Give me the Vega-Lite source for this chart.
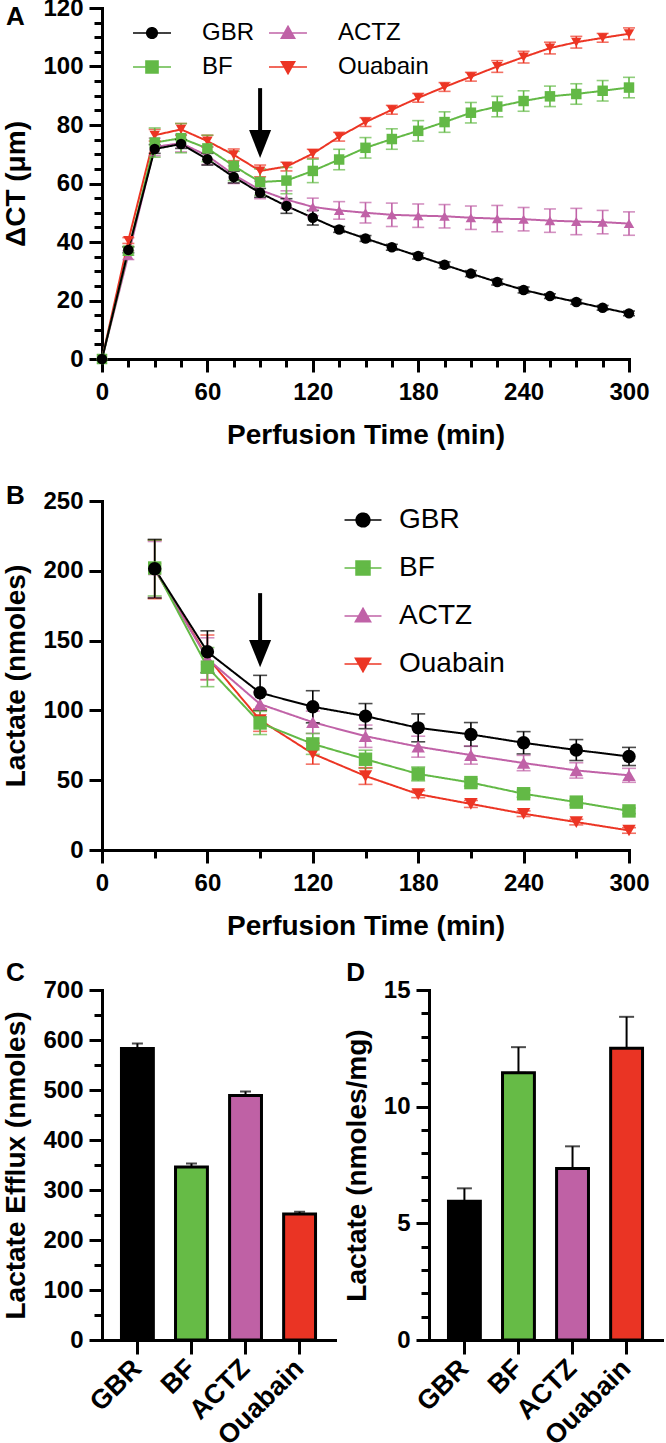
{
"$schema": "https://vega.github.io/schema/vega-lite/v6.json",
"padding": {"left": 2, "top": -4, "right": 2, "bottom": 0},
"background": "white",
"config": {
 "view": {"stroke": null},
 "font": "Liberation Sans",
 "axis": {"domainColor": "black", "domainWidth": 3, "tickColor": "black", "tickWidth": 3, "labelFont": "Liberation Sans", "labelFontSize": 24, "labelFontWeight": "bold", "labelColor": "black", "titleFont": "Liberation Sans", "titleFontSize": 28, "titleFontWeight": "bold", "titleColor": "black", "grid": false, "labelFlush": false, "labelOverlap": false, "labelBound": false, "domainCap": "square"},
 "axisX": {"labelPadding": 8, "titlePadding": 17},
 "axisY": {"labelPadding": 6, "titlePadding": 12},
 "title": {"font": "Liberation Sans", "fontSize": 26, "fontWeight": "bold", "color": "black", "anchor": "start", "frame": "bounds"}
},
"datasets": {
 "a": [
  {"t":0,"s":"Ouabain","y":0,"e":0},{"t":15,"s":"Ouabain","y":40.5,"e":1},{"t":30,"s":"Ouabain","y":76.5,"e":2},{"t":45,"s":"Ouabain","y":78.5,"e":2},{"t":60,"s":"Ouabain","y":74.5,"e":2},{"t":75,"s":"Ouabain","y":69.8,"e":2},{"t":90,"s":"Ouabain","y":64.3,"e":2},{"t":105,"s":"Ouabain","y":65.8,"e":1.5},{"t":120,"s":"Ouabain","y":70.2,"e":1.5},{"t":135,"s":"Ouabain","y":76,"e":1.5},{"t":150,"s":"Ouabain","y":81,"e":1.5},{"t":165,"s":"Ouabain","y":85.2,"e":1.5},{"t":180,"s":"Ouabain","y":89.3,"e":1.5},{"t":195,"s":"Ouabain","y":93,"e":1.5},{"t":210,"s":"Ouabain","y":96.5,"e":1.5},{"t":225,"s":"Ouabain","y":100,"e":2},{"t":240,"s":"Ouabain","y":103.2,"e":2},{"t":255,"s":"Ouabain","y":106.3,"e":2},{"t":270,"s":"Ouabain","y":108.3,"e":2},{"t":285,"s":"Ouabain","y":109.8,"e":1.5},{"t":300,"s":"Ouabain","y":111.2,"e":2},
  {"t":0,"s":"ACTZ","y":0,"e":0},{"t":15,"s":"ACTZ","y":35.5,"e":1.5},{"t":30,"s":"ACTZ","y":72.5,"e":3},{"t":45,"s":"ACTZ","y":73.8,"e":3},{"t":60,"s":"ACTZ","y":69.5,"e":3},{"t":75,"s":"ACTZ","y":63,"e":3},{"t":90,"s":"ACTZ","y":57.8,"e":3},{"t":105,"s":"ACTZ","y":54.5,"e":3},{"t":120,"s":"ACTZ","y":52,"e":3},{"t":135,"s":"ACTZ","y":50.8,"e":3},{"t":150,"s":"ACTZ","y":50,"e":3.5},{"t":165,"s":"ACTZ","y":49.3,"e":4},{"t":180,"s":"ACTZ","y":49,"e":4},{"t":195,"s":"ACTZ","y":48.8,"e":4},{"t":210,"s":"ACTZ","y":48.3,"e":4},{"t":225,"s":"ACTZ","y":48,"e":4.5},{"t":240,"s":"ACTZ","y":47.8,"e":4},{"t":255,"s":"ACTZ","y":47.3,"e":4},{"t":270,"s":"ACTZ","y":47,"e":4.5},{"t":285,"s":"ACTZ","y":46.8,"e":4},{"t":300,"s":"ACTZ","y":46.3,"e":4},
  {"t":0,"s":"BF","y":0,"e":0},{"t":15,"s":"BF","y":37,"e":1.5},{"t":30,"s":"BF","y":74,"e":5},{"t":45,"s":"BF","y":75.5,"e":5},{"t":60,"s":"BF","y":72,"e":4.5},{"t":75,"s":"BF","y":66,"e":5},{"t":90,"s":"BF","y":60.5,"e":4.5},{"t":105,"s":"BF","y":61,"e":4.5},{"t":120,"s":"BF","y":64.3,"e":4},{"t":135,"s":"BF","y":68.2,"e":3.5},{"t":150,"s":"BF","y":72.2,"e":3.5},{"t":165,"s":"BF","y":75.2,"e":3.5},{"t":180,"s":"BF","y":78,"e":3.5},{"t":195,"s":"BF","y":81,"e":3.5},{"t":210,"s":"BF","y":84.2,"e":3.5},{"t":225,"s":"BF","y":86.3,"e":3.5},{"t":240,"s":"BF","y":88.2,"e":3.5},{"t":255,"s":"BF","y":89.8,"e":3.5},{"t":270,"s":"BF","y":90.6,"e":3.5},{"t":285,"s":"BF","y":91.7,"e":3.5},{"t":300,"s":"BF","y":92.8,"e":3.5},
  {"t":0,"s":"GBR","y":0,"e":0},{"t":15,"s":"GBR","y":37.3,"e":1},{"t":30,"s":"GBR","y":71.8,"e":1.5},{"t":45,"s":"GBR","y":73.5,"e":1.5},{"t":60,"s":"GBR","y":68.3,"e":2},{"t":75,"s":"GBR","y":62.2,"e":2},{"t":90,"s":"GBR","y":56.8,"e":1.5},{"t":105,"s":"GBR","y":52.3,"e":2.5},{"t":120,"s":"GBR","y":48.3,"e":2.5},{"t":135,"s":"GBR","y":44.3,"e":1},{"t":150,"s":"GBR","y":41.2,"e":1},{"t":165,"s":"GBR","y":38.2,"e":1},{"t":180,"s":"GBR","y":35.2,"e":1},{"t":195,"s":"GBR","y":32.2,"e":1},{"t":210,"s":"GBR","y":29.2,"e":1},{"t":225,"s":"GBR","y":26.3,"e":1},{"t":240,"s":"GBR","y":23.6,"e":1},{"t":255,"s":"GBR","y":21.5,"e":0.8},{"t":270,"s":"GBR","y":19.5,"e":0.8},{"t":285,"s":"GBR","y":17.5,"e":0.8},{"t":300,"s":"GBR","y":15.6,"e":0.8}
 ],
 "b": [
  {"t":30,"s":"Ouabain","y":201,"e":21},{"t":60,"s":"Ouabain","y":138,"e":16},{"t":90,"s":"Ouabain","y":93,"e":8},{"t":120,"s":"Ouabain","y":69,"e":7.5},{"t":150,"s":"Ouabain","y":53,"e":6},{"t":180,"s":"Ouabain","y":40,"e":2.5},{"t":210,"s":"Ouabain","y":33,"e":2.5},{"t":240,"s":"Ouabain","y":26,"e":2},{"t":270,"s":"Ouabain","y":20,"e":2},{"t":300,"s":"Ouabain","y":14,"e":2},
  {"t":30,"s":"ACTZ","y":201,"e":20},{"t":60,"s":"ACTZ","y":137,"e":15},{"t":90,"s":"ACTZ","y":104.5,"e":9},{"t":120,"s":"ACTZ","y":91.5,"e":8},{"t":150,"s":"ACTZ","y":81.5,"e":8},{"t":180,"s":"ACTZ","y":74,"e":7.5},{"t":210,"s":"ACTZ","y":68,"e":6.5},{"t":240,"s":"ACTZ","y":62.3,"e":5.5},{"t":270,"s":"ACTZ","y":57,"e":5.5},{"t":300,"s":"ACTZ","y":53.5,"e":5},
  {"t":30,"s":"BF","y":202,"e":20},{"t":60,"s":"BF","y":131,"e":14},{"t":90,"s":"BF","y":91,"e":8.3},{"t":120,"s":"BF","y":76,"e":7.5},{"t":150,"s":"BF","y":65,"e":6.5},{"t":180,"s":"BF","y":54.5,"e":5},{"t":210,"s":"BF","y":48.3,"e":2.5},{"t":240,"s":"BF","y":40.3,"e":2.5},{"t":270,"s":"BF","y":34.3,"e":2},{"t":300,"s":"BF","y":28,"e":2},
  {"t":30,"s":"GBR","y":201.5,"e":21},{"t":60,"s":"GBR","y":142,"e":15},{"t":90,"s":"GBR","y":112.6,"e":12.5},{"t":120,"s":"GBR","y":102.6,"e":11.5},{"t":150,"s":"GBR","y":95.9,"e":9},{"t":180,"s":"GBR","y":87.5,"e":10},{"t":210,"s":"GBR","y":82.8,"e":8.5},{"t":240,"s":"GBR","y":76.8,"e":8},{"t":270,"s":"GBR","y":71.6,"e":7.5},{"t":300,"s":"GBR","y":67,"e":6.5}
 ],
 "shaftA": [{"t":90,"y":92.6,"base":77.5}],
 "headA": [{"t":90,"y":73.5}],
 "shaftB": [{"t":90,"y":184,"base":149}],
 "headB": [{"t":90,"y":140.7}],
 "c": [{"g":"GBR","mean":583,"hi":593},{"g":"BF","mean":346,"hi":353},{"g":"ACTZ","mean":489,"hi":497},{"g":"Ouabain","mean":252,"hi":256.5}],
 "d": [{"g":"GBR","mean":5.95,"hi":6.5},{"g":"BF","mean":11.45,"hi":12.55},{"g":"ACTZ","mean":7.35,"hi":8.3},{"g":"Ouabain","mean":12.5,"hi":13.85}]
},
"vconcat": [
 {
 "vconcat": [
 {
  "width": 527, "height": 351,
  "title": {"text": "A", "offset": -34, "dx": 3},
  "encoding": {
   "x": {"field": "t", "type": "quantitative", "title": "Perfusion Time (min)", "scale": {"domain": [0, 300], "nice": false, "zero": false},
     "axis": {"values": [0,15,30,45,60,75,90,105,120,135,150,165,180,195,210,225,240,255,270,285,300], "labelExpr": "datum.value % 60 === 0 ? datum.label : ''", "tickSize": {"condition": {"test": "datum.value % 60 === 0", "value": 13}, "value": 8}}},
   "y": {"field": "y", "type": "quantitative", "title": "ΔCT (μm)", "scale": {"domain": [0, 120], "nice": false},
     "axis": {"values": [0,5,10,15,20,25,30,35,40,45,50,55,60,65,70,75,80,85,90,95,100,105,110,115,120], "labelExpr": "datum.value % 20 === 0 ? datum.label : ''", "tickSize": {"condition": {"test": "datum.value % 20 === 0", "value": 13}, "value": 8}}}
  },
  "layer": [
   {"data": {"name": "a"}, "mark": {"type": "line", "strokeWidth": 2},
    "encoding": {
     "color": {"field": "s", "type": "nominal", "legend": null, "scale": {"domain": ["GBR","BF","ACTZ","Ouabain"], "range": ["#000000","#63B946","#C062A7","#EC3524"]}},
     "strokeDash": {"field": "s", "type": "nominal", "scale": {"domain": ["GBR","ACTZ","BF","Ouabain"], "range": [[1,0],[1,0],[1,0],[1,0]]},
       "legend": {"orient": "none", "legendX": 38, "legendY": 13, "columns": 2, "direction": "horizontal", "title": null, "labelFont": "Liberation Sans", "labelFontSize": 24, "labelFontWeight": "normal", "labelColor": "black", "symbolSize": 196, "labelOffset": 38, "rowPadding": 10, "columnPadding": 10, "padding": 0,
        "encode": {"symbols": {"update": {
          "shape": {"signal": "datum.value === 'GBR' ? 'M-2.71,0H2.71M-0.75,0A0.75,0.75,0,1,0,0.75,0A0.75,0.75,0,1,0,-0.75,0Z' : datum.value === 'BF' ? 'M-2.71,0H2.71M-0.86,-0.86H0.86V0.86H-0.86Z' : datum.value === 'ACTZ' ? 'M-2.71,0H2.71M0,-0.95L0.95,0.75L-0.95,0.75Z' : 'M-2.71,0H2.71M0,0.95L0.95,-0.75L-0.95,-0.75Z'"},
          "fill": {"signal": "datum.value === 'GBR' ? '#000000' : datum.value === 'BF' ? '#63B946' : datum.value === 'ACTZ' ? '#C062A7' : '#EC3524'"},
          "stroke": {"signal": "datum.value === 'GBR' ? '#000000' : datum.value === 'BF' ? '#63B946' : datum.value === 'ACTZ' ? '#C062A7' : '#EC3524'"},
          "strokeWidth": {"value": 1.6}, "strokeDash": {"value": [1, 0]}, "opacity": {"value": 1}, "size": {"value": 196}}}}}},
     "order": {"field": "t"}
    }},
   {"data": {"name": "a"}, "mark": {"type": "errorbar", "ticks": true, "size": 12, "thickness": 1.6},
    "encoding": {
     "yError": {"field": "e"},
     "color": {"field": "s", "type": "nominal", "legend": null}
    }},
   {"data": {"name": "a"}, "mark": {"type": "point", "filled": true, "size": 110, "opacity": 1},
    "encoding": {
     "color": {"field": "s", "type": "nominal", "legend": null},
     "shape": {"field": "s", "type": "nominal", "legend": null, "scale": {"domain": ["GBR","BF","ACTZ","Ouabain"], "range": ["circle","square","triangle-up","triangle-down"]}}
    }},
   {"data": {"name": "shaftA"}, "mark": {"type": "rule", "strokeWidth": 4, "color": "black"},
    "encoding": {"y2": {"field": "base"}}},
   {"data": {"name": "headA"}, "mark": {"type": "point", "filled": true, "color": "black", "opacity": 1, "size": 784, "shape": "M-0.786,-1L0.786,-1L0,1Z"}, "encoding": {}}
  ]
 },
 {
  "width": 527, "height": 349,
  "title": {"text": "B", "offset": -20, "dx": 3},
  "encoding": {
   "x": {"field": "t", "type": "quantitative", "title": "Perfusion Time (min)", "scale": {"domain": [0, 300], "nice": false, "zero": false},
     "axis": {"values": [0,30,60,90,120,150,180,210,240,270,300], "labelExpr": "datum.value % 60 === 0 ? datum.label : ''", "tickSize": {"condition": {"test": "datum.value % 60 === 0", "value": 13}, "value": 8}}},
   "y": {"field": "y", "type": "quantitative", "title": "Lactate (nmoles)", "scale": {"domain": [0, 250], "nice": false},
     "axis": {"values": [0,50,100,150,200,250], "tickSize": 13}}
  },
  "layer": [
   {"data": {"name": "b"}, "mark": {"type": "line", "strokeWidth": 2},
    "encoding": {
     "color": {"field": "s", "type": "nominal", "legend": null, "scale": {"domain": ["GBR","ACTZ","BF","Ouabain"], "range": ["#000000","#C062A7","#63B946","#EC3524"]}},
     "strokeDash": {"field": "s", "type": "nominal", "scale": {"domain": ["GBR","BF","ACTZ","Ouabain"], "range": [[1,0],[1,0],[1,0],[1,0]]},
       "legend": {"orient": "none", "legendX": 247, "legendY": 5, "direction": "vertical", "title": null, "labelFont": "Liberation Sans", "labelFontSize": 28, "labelFontWeight": "normal", "labelColor": "black", "symbolSize": 256, "labelOffset": 22, "rowPadding": 20, "padding": 0,
        "encode": {"symbols": {"update": {
          "shape": {"signal": "datum.value === 'GBR' ? 'M-2.31,0H2.31M-0.85,0A0.85,0.85,0,1,0,0.85,0A0.85,0.85,0,1,0,-0.85,0Z' : datum.value === 'BF' ? 'M-2.31,0H2.31M-0.87,-0.87H0.87V0.87H-0.87Z' : datum.value === 'ACTZ' ? 'M-2.31,0H2.31M0,-0.95L0.95,0.72L-0.95,0.72Z' : 'M-2.31,0H2.31M0,0.95L0.95,-0.72L-0.95,-0.72Z'"},
          "fill": {"signal": "datum.value === 'GBR' ? '#000000' : datum.value === 'BF' ? '#63B946' : datum.value === 'ACTZ' ? '#C062A7' : '#EC3524'"},
          "stroke": {"signal": "datum.value === 'GBR' ? '#000000' : datum.value === 'BF' ? '#63B946' : datum.value === 'ACTZ' ? '#C062A7' : '#EC3524'"},
          "strokeWidth": {"value": 1.6}, "strokeDash": {"value": [1, 0]}, "opacity": {"value": 1}, "size": {"value": 256}}}}}},
     "order": {"field": "t"}
    }},
   {"data": {"name": "b"}, "mark": {"type": "errorbar", "ticks": true, "size": 14, "thickness": 1.6},
    "encoding": {
     "yError": {"field": "e"},
     "color": {"field": "s", "type": "nominal", "legend": null}
    }},
   {"data": {"name": "b"}, "mark": {"type": "point", "filled": true, "size": 180, "opacity": 1},
    "encoding": {
     "color": {"field": "s", "type": "nominal", "legend": null},
     "shape": {"field": "s", "type": "nominal", "legend": null, "scale": {"domain": ["GBR","ACTZ","BF","Ouabain"], "range": ["circle","triangle-up","square","triangle-down"]}}
    }},
   {"data": {"name": "shaftB"}, "mark": {"type": "rule", "strokeWidth": 4, "color": "black"},
    "encoding": {"y2": {"field": "base"}}},
   {"data": {"name": "headB"}, "mark": {"type": "point", "filled": true, "color": "black", "opacity": 1, "size": 740, "shape": "M-0.81,-1L0.81,-1L0,1Z"}, "encoding": {}}
  ]
 }
 ],
 "spacing": 34,
 "resolve": {"scale": {"x": "independent", "y": "independent", "color": "independent", "shape": "independent", "strokeDash": "independent"}, "legend": {"color": "independent", "shape": "independent", "strokeDash": "independent"}}
 },
 {
  "hconcat": [
   {
    "width": 233, "height": 350,
    "title": {"text": "C", "offset": -8, "dx": 3},
    "data": {"name": "c"},
    "encoding": {
     "x": {"field": "g", "type": "nominal", "title": null, "sort": ["GBR","BF","ACTZ","Ouabain"], "scale": {"paddingInner": 0.41, "paddingOuter": 0.36},
       "axis": {"labelAngle": -45, "labelAlign": "right", "labelBaseline": "middle", "labelFontSize": 27, "tickSize": 14, "labelPadding": 10}},
     "y": {"field": "mean", "type": "quantitative", "title": "Lactate Efflux (nmoles)", "scale": {"domain": [0, 700], "nice": false},
       "axis": {"values": [0,50,100,150,200,250,300,350,400,450,500,550,600,650,700], "labelExpr": "datum.value % 100 === 0 ? datum.label : ''", "tickSize": {"condition": {"test": "datum.value % 100 === 0", "value": 13}, "value": 8}}}
    },
    "layer": [
     {"mark": {"type": "errorbar", "ticks": true, "size": 11, "thickness": 2, "color": "black"},
      "encoding": {"y2": {"field": "hi"}}},
     {"mark": {"type": "bar", "stroke": "black", "strokeWidth": 3},
      "encoding": {
       "color": {"field": "g", "type": "nominal", "legend": null, "scale": {"domain": ["GBR","BF","ACTZ","Ouabain"], "range": ["#000000","#66BB46","#BF61A5","#EA3424"]}}
      }}
    ]
   },
   {
    "width": 233, "height": 350,
    "title": {"text": "D", "offset": -8, "dx": 3},
    "data": {"name": "d"},
    "encoding": {
     "x": {"field": "g", "type": "nominal", "title": null, "sort": ["GBR","BF","ACTZ","Ouabain"], "scale": {"paddingInner": 0.41, "paddingOuter": 0.36},
       "axis": {"labelAngle": -45, "labelAlign": "right", "labelBaseline": "middle", "labelFontSize": 27, "tickSize": 14, "labelPadding": 10}},
     "y": {"field": "mean", "type": "quantitative", "title": "Lactate (nmoles/mg)", "scale": {"domain": [0, 15], "nice": false},
       "axis": {"values": [0,1,2,3,4,5,6,7,8,9,10,11,12,13,14,15], "labelExpr": "datum.value % 5 === 0 ? datum.label : ''", "tickSize": {"condition": {"test": "datum.value % 5 === 0", "value": 13}, "value": 8}}}
    },
    "layer": [
     {"mark": {"type": "errorbar", "ticks": true, "size": 15, "thickness": 2, "color": "black"},
      "encoding": {"y2": {"field": "hi"}}},
     {"mark": {"type": "bar", "stroke": "black", "strokeWidth": 3},
      "encoding": {
       "color": {"field": "g", "type": "nominal", "legend": null, "scale": {"domain": ["GBR","BF","ACTZ","Ouabain"], "range": ["#000000","#66BB46","#BF61A5","#EA3424"]}}
      }}
    ]
   }
  ],
  "spacing": 8,
  "resolve": {"scale": {"x": "independent", "y": "independent", "color": "independent"}}
 }
],
"spacing": 20,
"resolve": {"scale": {"x": "independent", "y": "independent", "color": "independent", "shape": "independent", "strokeDash": "independent"}, "legend": {"color": "independent", "shape": "independent", "strokeDash": "independent"}}
}
